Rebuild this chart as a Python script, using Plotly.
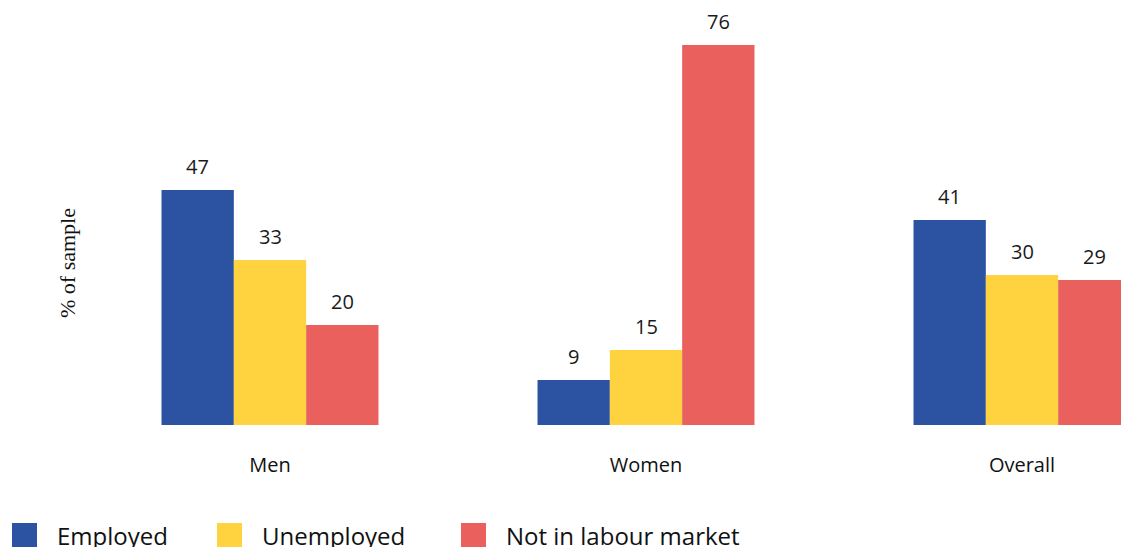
import plotly.graph_objects as go

# Labour market status by group (% of sample)
groups = ["Men", "Women", "Overall"]
series_names = ["Employed", "Unemployed", "Not in labour market"]
employed = [47, 9, 41]
unemployed = [33, 15, 30]
not_in_market = [20, 76, 29]

colors = ["#2C53A1", "#FFD23F", "#E9605C"]
series_values = [employed, unemployed, not_in_market]

W, H = 1121, 547
L, R, T, B = 82, 0, 0, 122
CAT_PX = 376.0
BARGAP = 0.423

fig = go.Figure()
for name, vals, col in zip(series_names, series_values, colors):
    fig.add_trace(go.Bar(
        x=groups, y=vals, name=name, marker=dict(color=col, line=dict(width=0)),
        showlegend=False,
    ))

# value labels above each bar, positioned from the same values
bar_w = (1 - BARGAP) / len(series_names)
for si, vals in enumerate(series_values):
    for gi, v in enumerate(vals):
        fig.add_annotation(
            x=gi + (si - 1) * bar_w, y=v, xref="x", yref="y",
            text=str(v), showarrow=False, yanchor="bottom", yshift=8,
            font=dict(family="Open Sans", size=20, color="#1a1a1a"),
        )

plot_w = W - L - R
plot_h = H - T - B

def px_x(px):
    return (px - L) / plot_w

def px_y(py):
    return (T + plot_h - py) / plot_h

# y-axis caption
fig.add_annotation(
    x=px_x(67), y=px_y(263), xref="paper", yref="paper",
    text="% of sample", textangle=-90, showarrow=False,
    xanchor="center", yanchor="middle",
    font=dict(family="Liberation Serif", size=22, color="#111111"),
)

# legend drawn as swatches plus labels along the bottom
legend_sq_x = [12, 217, 461]
for sx, name, col in zip(legend_sq_x, series_names, colors):
    fig.add_shape(
        type="rect", xref="paper", yref="paper",
        x0=px_x(sx), x1=px_x(sx + 25), y0=px_y(523), y1=px_y(560),
        fillcolor=col, line=dict(width=0), layer="above",
    )
    fig.add_annotation(
        x=px_x(sx + 43), y=px_y(535), xref="paper", yref="paper",
        text=name, showarrow=False, xanchor="left", yanchor="middle",
        font=dict(family="Open Sans", size=24, color="#111111"),
    )

fig.update_layout(
    width=W, height=H,
    margin=dict(l=L, r=R, t=T, b=B, pad=0),
    paper_bgcolor="white", plot_bgcolor="white",
    barmode="group", bargap=BARGAP, bargroupgap=0,
    font=dict(family="Open Sans", color="#111111"),
    xaxis=dict(
        range=[-0.5, -0.5 + plot_w / CAT_PX], showline=False, showgrid=False,
        zeroline=False, ticks="", tickfont=dict(family="Open Sans", size=20, color="#111111"),
        ticklabelstandoff=26,
    ),
    yaxis=dict(range=[0, 85], visible=False, showgrid=False, zeroline=False),
)

fig.write_html("out.html")
